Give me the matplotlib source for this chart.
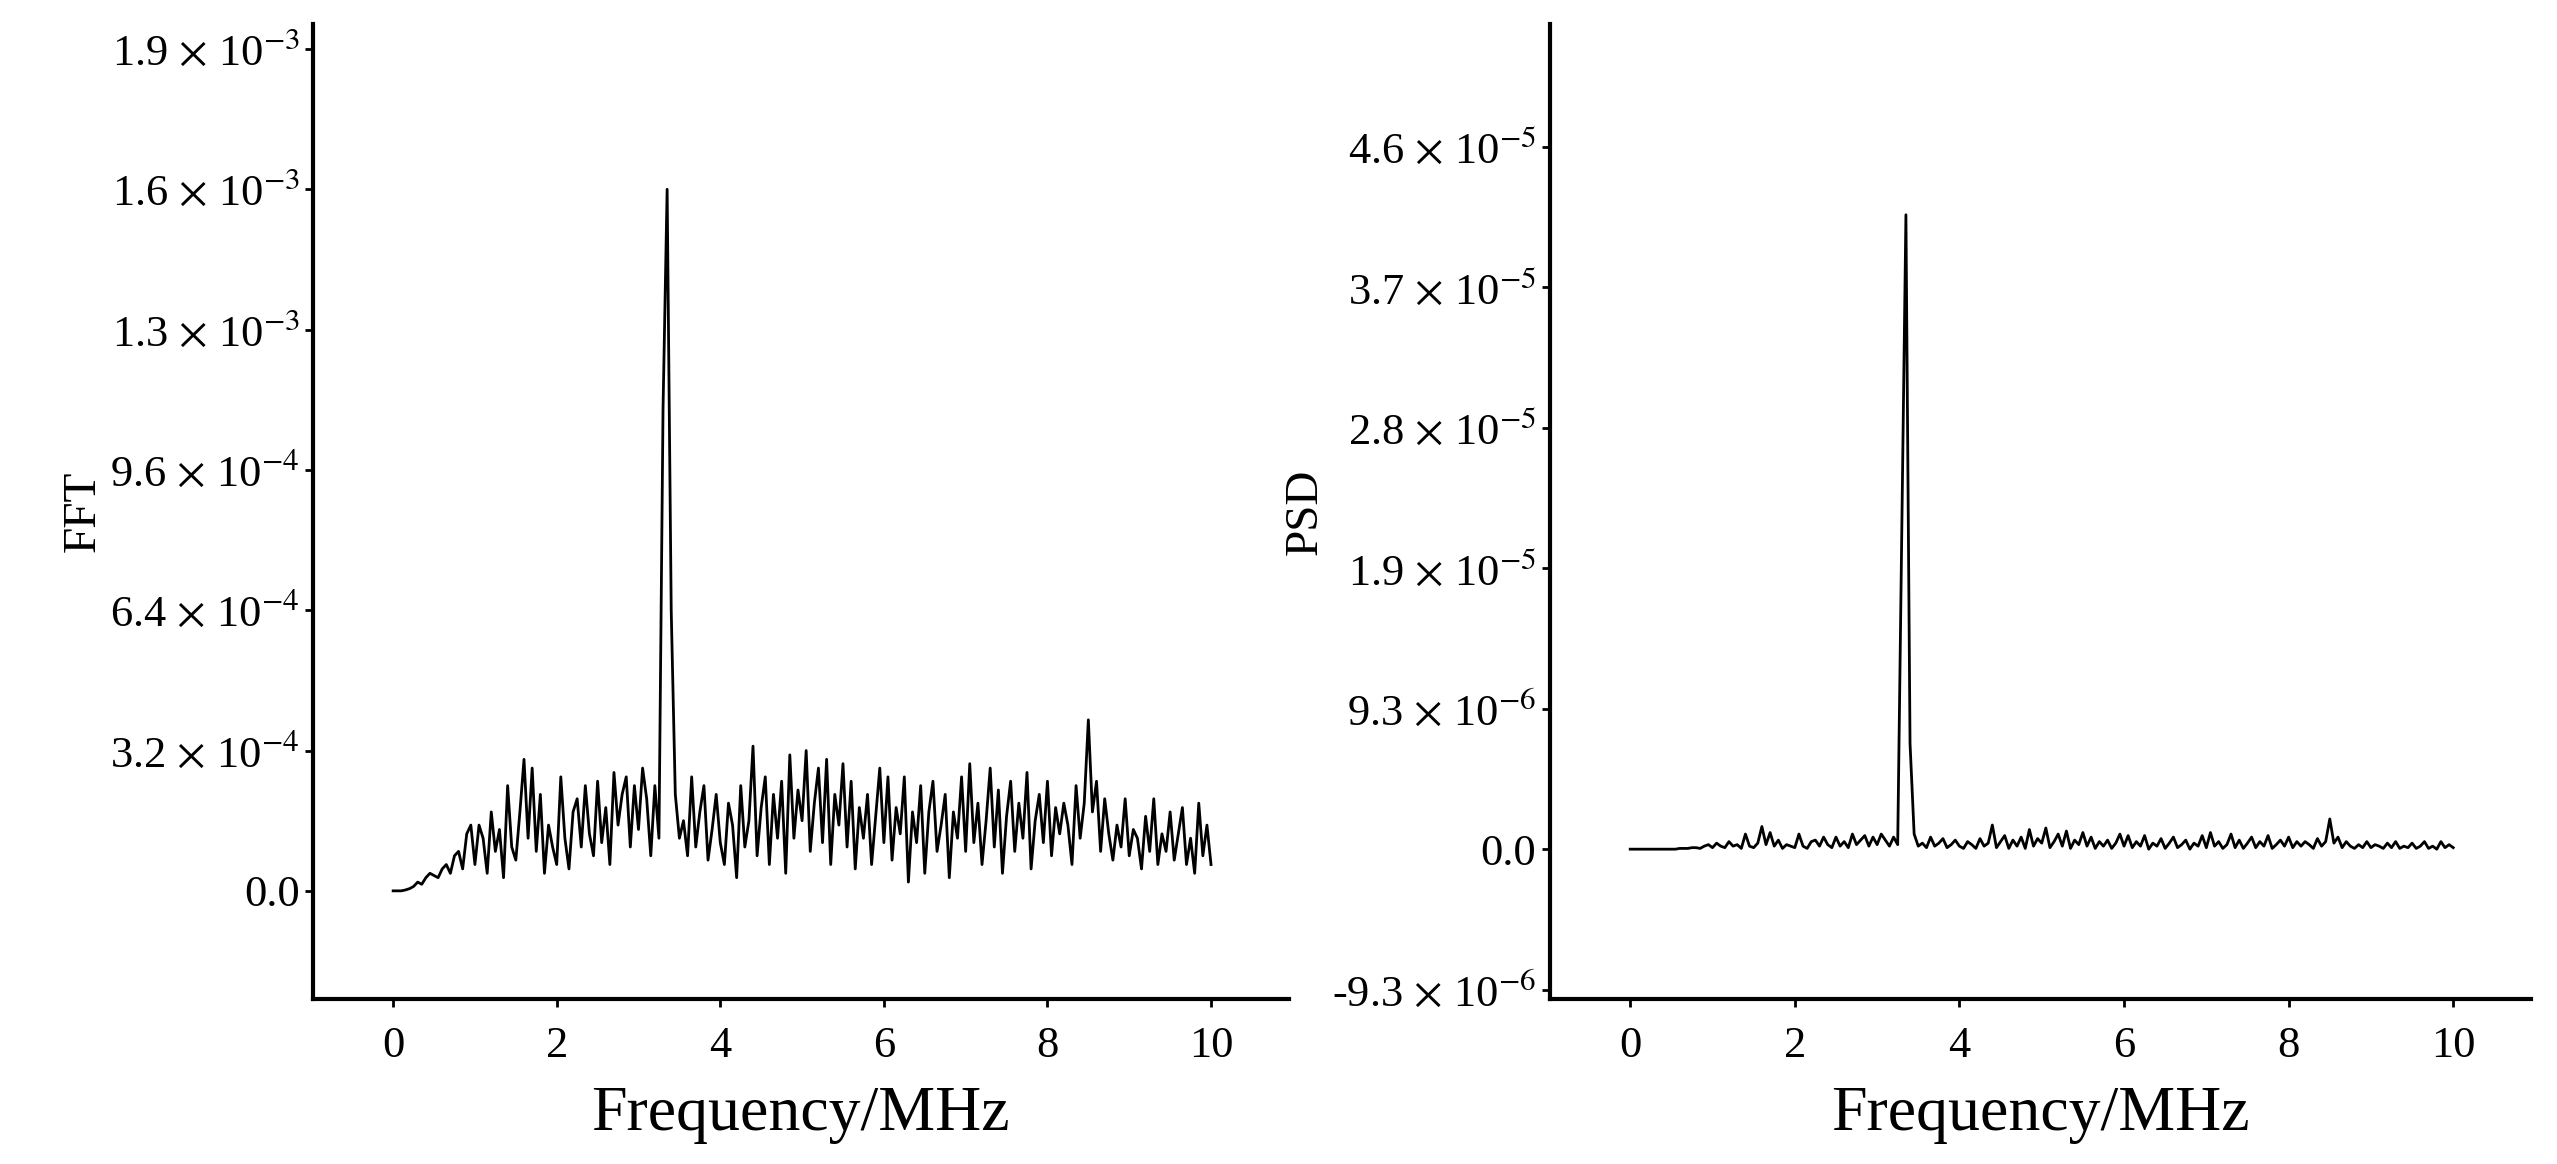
import numpy as np
import matplotlib
matplotlib.use('Agg')
import matplotlib.pyplot as plt
from matplotlib.ticker import FuncFormatter

plt.rcParams['font.family'] = ['Liberation Serif', 'DejaVu Serif']
plt.rcParams['mathtext.fontset'] = 'stix'

# frequency grid, MHz
freq = np.arange(201) * 0.05

# FFT magnitude, units of 1e-4
fft_vals = [
    0, 0, 0, 0.02, 0.05, 0.1, 0.2, 0.15, 0.3, 0.4,
    0.35, 0.3, 0.5, 0.6, 0.4, 0.8, 0.9, 0.5, 1.3, 1.5,
    0.6, 1.5, 1.2, 0.4, 1.8, 0.9, 1.4, 0.3, 2.4, 1.0,
    0.7, 1.8, 3.0, 1.2, 2.8, 0.9, 2.2, 0.4, 1.5, 1.0,
    0.6, 2.6, 1.2, 0.5, 1.8, 2.1, 1.0, 2.4, 1.3, 0.8,
    2.5, 1.1, 1.9, 0.6, 2.7, 1.5, 2.2, 2.6, 1.0, 2.4,
    1.4, 2.8, 2.1, 0.8, 2.4, 1.2, 11.0, 16.0, 6.4, 2.2,
    1.2, 1.6, 0.8, 2.6, 1.0, 1.8, 2.4, 0.7, 1.4, 2.2,
    1.1, 0.6, 2.0, 1.5, 0.3, 2.4, 1.0, 1.6, 3.3, 0.8,
    1.9, 2.6, 0.6, 2.2, 1.2, 2.5, 0.4, 3.1, 1.2, 2.3,
    1.6, 3.2, 0.9, 2.0, 2.8, 1.1, 3.0, 0.6, 2.2, 1.5,
    2.9, 1.0, 2.5, 0.5, 1.9, 1.2, 2.2, 0.6, 1.7, 2.8,
    1.1, 2.6, 0.7, 1.9, 1.3, 2.6, 0.2, 1.8, 1.1, 2.4,
    0.4, 1.8, 2.5, 0.9, 1.5, 2.2, 0.3, 1.8, 1.2, 2.6,
    0.9, 2.9, 1.1, 2.0, 0.6, 1.6, 2.8, 1.0, 2.3, 0.4,
    1.7, 2.5, 0.9, 2.0, 1.2, 2.7, 0.5, 1.6, 2.2, 1.1,
    2.5, 0.8, 1.9, 1.3, 2.0, 1.5, 0.6, 2.4, 1.2, 2.0,
    3.9, 1.8, 2.5, 0.9, 2.1, 1.3, 0.7, 1.5, 1.0, 2.1,
    0.8, 1.4, 1.2, 0.5, 1.7, 0.9, 2.1, 0.6, 1.3, 0.9,
    1.8, 0.7, 1.3, 1.9, 0.6, 1.2, 0.4, 2.0, 0.8, 1.5,
    0.6,
]

# PSD, units of 1e-6
psd_vals = [
    0, 0, 0, 0, 0, 0, 0, 0, 0, 0,
    0, 0, 0.05, 0.05, 0.05, 0.1, 0.1, 0.05, 0.2, 0.3,
    0.1, 0.4, 0.2, 0.1, 0.5, 0.2, 0.3, 0.05, 1.0, 0.2,
    0.1, 0.4, 1.5, 0.3, 1.1, 0.2, 0.6, 0.05, 0.3, 0.2,
    0.1, 1.0, 0.2, 0.05, 0.5, 0.6, 0.2, 0.8, 0.3, 0.1,
    0.8, 0.2, 0.5, 0.1, 1.0, 0.3, 0.6, 0.9, 0.2, 0.8,
    0.3, 1.0, 0.6, 0.2, 0.8, 0.3, 21.0, 42.0, 7.0, 1.0,
    0.2, 0.4, 0.1, 0.8, 0.2, 0.4, 0.7, 0.1, 0.3, 0.6,
    0.2, 0.05, 0.5, 0.3, 0.05, 0.7, 0.2, 0.4, 1.6, 0.1,
    0.5, 0.9, 0.05, 0.6, 0.2, 0.8, 0.05, 1.3, 0.2, 0.7,
    0.4, 1.4, 0.1, 0.5, 1.0, 0.2, 1.2, 0.05, 0.6, 0.3,
    1.1, 0.2, 0.8, 0.05, 0.5, 0.2, 0.6, 0.05, 0.4, 1.0,
    0.2, 0.9, 0.1, 0.5, 0.2, 0.9, 0.0, 0.4, 0.2, 0.7,
    0.05, 0.4, 0.8, 0.1, 0.3, 0.6, 0.0, 0.4, 0.2, 0.9,
    0.1, 1.1, 0.2, 0.5, 0.05, 0.3, 1.0, 0.1, 0.6, 0.05,
    0.4, 0.8, 0.1, 0.5, 0.2, 0.9, 0.05, 0.3, 0.6, 0.2,
    0.8, 0.1, 0.5, 0.2, 0.5, 0.3, 0.05, 0.7, 0.2, 0.5,
    2.0, 0.4, 0.8, 0.1, 0.5, 0.2, 0.05, 0.3, 0.1, 0.5,
    0.1, 0.3, 0.2, 0.05, 0.4, 0.1, 0.5, 0.05, 0.2, 0.1,
    0.4, 0.05, 0.2, 0.5, 0.05, 0.2, 0.0, 0.5, 0.1, 0.3,
    0.1,
]

fft_ticks = np.arange(7) * 3.2e-4
psd_ticks = np.arange(-1, 6) * 9.3e-6


def sci(v, pos):
    if abs(v) < 1e-12:
        return '0.0'
    e = int(np.floor(np.log10(abs(v))))
    m = v / 10**e
    m = m - 1e-9 if m > 0 else m + 1e-9
    return r'%.1f $\times$ 10$^{%d}$' % (m, e)


fig = plt.figure(figsize=(25.57, 11.64), dpi=100)
ax1 = fig.add_axes([0.1224, 0.142, 0.3816, 0.837])
ax2 = fig.add_axes([0.606, 0.142, 0.384, 0.837])

ax1.plot(freq, np.array(fft_vals) * 1e-4, color='black', lw=2)
ax1.set_ylim(-2.46e-4, 1.976e-3)
ax1.set_yticks(fft_ticks)
ax1.set_ylabel('FFT', fontsize=34)

ax2.plot(freq, np.array(psd_vals) * 1e-6, color='black', lw=2)
ax2.set_ylim(-9.9e-6, 5.46e-5)
ax2.set_yticks(psd_ticks)
ax2.set_ylabel('PSD', fontsize=34)

for ax in (ax1, ax2):
    ax.set_xlim(-0.98, 10.95)
    ax.set_xticks([0, 2, 4, 6, 8, 10])
    ax.yaxis.set_major_formatter(FuncFormatter(sci))
    ax.set_xlabel('Frequency/MHz', fontsize=46, labelpad=14)
    ax.spines['top'].set_visible(False)
    ax.spines['right'].set_visible(False)
    ax.spines['left'].set_linewidth(3)
    ax.spines['bottom'].set_linewidth(3)
    ax.tick_params(labelsize=32, width=2, length=6)
    ax.tick_params(axis='x', pad=14)

fig.savefig('out.png', dpi=100)
